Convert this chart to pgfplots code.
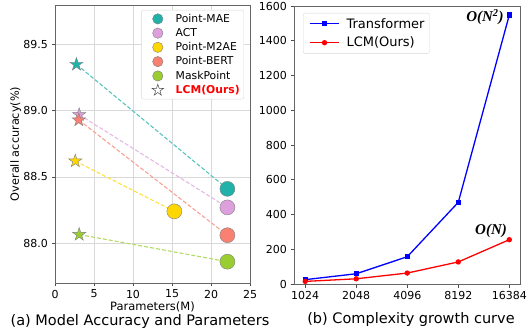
\documentclass[border=0pt]{standalone}
\usepackage{pgfplots}
\pgfplotsset{compat=1.18}
\usepackage{fontspec}
\setmainfont{DejaVu Sans}
\newfontfamily\sbi{Liberation Serif}
\usetikzlibrary{plotmarks}

\pgfdeclareplotmark{fstar}{%
  \pgfpathmoveto{\pgfpointpolar{90}{\pgfplotmarksize}}%
  \pgfpathlineto{\pgfpointpolar{126}{0.382\pgfplotmarksize}}%
  \pgfpathlineto{\pgfpointpolar{162}{\pgfplotmarksize}}%
  \pgfpathlineto{\pgfpointpolar{198}{0.382\pgfplotmarksize}}%
  \pgfpathlineto{\pgfpointpolar{234}{\pgfplotmarksize}}%
  \pgfpathlineto{\pgfpointpolar{270}{0.382\pgfplotmarksize}}%
  \pgfpathlineto{\pgfpointpolar{306}{\pgfplotmarksize}}%
  \pgfpathlineto{\pgfpointpolar{342}{0.382\pgfplotmarksize}}%
  \pgfpathlineto{\pgfpointpolar{18}{\pgfplotmarksize}}%
  \pgfpathlineto{\pgfpointpolar{54}{0.382\pgfplotmarksize}}%
  \pgfpathclose
  \pgfusepathqfillstroke
}

\definecolor{cmae}{HTML}{20B2AA}
\definecolor{cact}{HTML}{DDA0DD}
\definecolor{cmtwo}{HTML}{FFD700}
\definecolor{cbert}{HTML}{FA8072}
\definecolor{cmask}{HTML}{9ACD32}

\begin{document}
\begin{tikzpicture}
\path[use as bounding box] (0pt,0pt) rectangle (530pt,330pt);

% ---------------- left plot ----------------
\begin{axis}[
  at={(55pt,47pt)}, anchor=south west,
  scale only axis, width=195pt, height=278pt,
  xmin=0, xmax=25, ymin=87.7, ymax=89.8,
  xtick={0,5,10,15,20,25},
  ytick={88.0,88.5,89.0,89.5},
  yticklabel style={/pgf/number format/.cd,fixed,precision=1,zerofill},
  /pgf/number format/assume math mode=true,
  ticklabel style={font=\fontsize{11}{13}\selectfont},
  tick pos=left, tick align=outside, major tick length=3.5pt,
  every tick/.style={black!70, line width=0.6pt},
  axis line style={black!60, line width=0.6pt},
  grid=major, major grid style={gray!30, line width=0.8pt},
  xlabel={Parameters(M)},
  xlabel style={font=\fontsize{11.5}{13}\selectfont, yshift=3pt},
  ylabel={Overall accuracy(\%)},
  ylabel style={font=\fontsize{11.3}{13}\selectfont, yshift=-4.5pt},
  legend cell align=left,
  legend image code/.code={\path (0cm,0cm) (1.05cm,0cm); \draw[#1] plot coordinates {(0.5cm,0cm)};},
  legend style={at={(0.969,0.982)}, anchor=north east,
    font=\fontsize{10.8}{12}\selectfont, draw=gray!30, rounded corners=2pt,
    row sep=0.6pt, inner sep=2pt},
]
% dashed lines
\addplot[forget plot, cmae!75, dash pattern=on 4pt off 2pt, line width=1.1pt] coordinates {(2.75,89.35) (22.1,88.41)};
\addplot[forget plot, cact!75, dash pattern=on 4pt off 2pt, line width=1.1pt] coordinates {(3.1,88.97) (22.1,88.27)};
\addplot[forget plot, cmtwo!75, dash pattern=on 4pt off 2pt, line width=1.1pt] coordinates {(2.6,88.62) (15.3,88.24)};
\addplot[forget plot, cbert!75, dash pattern=on 4pt off 2pt, line width=1.1pt] coordinates {(3.05,88.93) (22.1,88.06)};
\addplot[forget plot, cmask!75, dash pattern=on 4pt off 2pt, line width=1.1pt] coordinates {(3.1,88.065) (22.1,87.86)};
% stars
\addplot[forget plot, only marks, mark=fstar, mark size=7pt, draw=gray, fill=cmae, line width=0.4pt] coordinates {(2.75,89.35)};
\addplot[forget plot, only marks, mark=fstar, mark size=7pt, draw=gray, fill=cact, line width=0.4pt] coordinates {(3.1,88.97)};
\addplot[forget plot, only marks, mark=fstar, mark size=7pt, draw=gray, fill=cbert, line width=0.4pt] coordinates {(3.05,88.93)};
\addplot[forget plot, only marks, mark=fstar, mark size=7pt, draw=gray, fill=cmtwo, line width=0.4pt] coordinates {(2.6,88.62)};
\addplot[forget plot, only marks, mark=fstar, mark size=7pt, draw=gray, fill=cmask, line width=0.4pt] coordinates {(3.1,88.065)};
% circles
\addplot[only marks, mark=*, mark size=7.5pt, draw=gray, fill=cmae, line width=0.4pt, legend image post style={mark size=5.2pt}] coordinates {(22.1,88.41)};
\addlegendentry{Point-MAE}
\addplot[only marks, mark=*, mark size=7.5pt, draw=gray, fill=cact, line width=0.4pt, legend image post style={mark size=5.2pt}] coordinates {(22.1,88.27)};
\addlegendentry{ACT}
\addplot[only marks, mark=*, mark size=7.5pt, draw=gray, fill=cmtwo, line width=0.4pt, legend image post style={mark size=5.2pt}] coordinates {(15.3,88.24)};
\addlegendentry{Point-M2AE}
\addplot[only marks, mark=*, mark size=7.5pt, draw=gray, fill=cbert, line width=0.4pt, legend image post style={mark size=5.2pt}] coordinates {(22.1,88.06)};
\addlegendentry{Point-BERT}
\addplot[only marks, mark=*, mark size=7.5pt, draw=gray, fill=cmask, line width=0.4pt, legend image post style={mark size=5.2pt}] coordinates {(22.1,87.86)};
\addlegendentry{MaskPoint}
\addplot[only marks, mark=fstar, mark size=6pt, draw=black!70, fill=white, line width=0.5pt] coordinates {(-10,0)};
\addlegendentry{\textcolor{red}{\textbf{LCM(Ours)}}}
\end{axis}

% ---------------- right plot ----------------
\begin{axis}[
  at={(294pt,46pt)}, anchor=south west,
  scale only axis, width=226pt, height=278pt,
  xmin=-0.22, xmax=4.21, ymin=0, ymax=1600,
  xtick={0,1,2,3,4}, xticklabels={1024,2048,4096,8192,16384},
  ytick={0,200,400,600,800,1000,1200,1400,1600},
  /pgf/number format/assume math mode=true,
  /pgf/number format/1000 sep={},
  ticklabel style={font=\fontsize{11}{13}\selectfont},
  tick pos=left, tick align=outside, major tick length=3.5pt,
  every tick/.style={black!70, line width=0.6pt},
  axis line style={black!60, line width=0.6pt},
  scaled y ticks=false,
  legend cell align=left,
  legend image code/.code={\path (0cm,0cm) (1.3cm,0cm); \draw[mark repeat=2,mark phase=2,#1] plot coordinates {(0.1cm,0cm) (0.62cm,0cm) (1.14cm,0cm)};},
  legend style={at={(0.04,0.975)}, anchor=north west,
    font=\fontsize{13}{15}\selectfont, draw=gray!30, rounded corners=2pt,
    row sep=3.5pt, inner sep=3pt},
]
\addplot[color=blue, line width=1.3pt, mark=square*, mark size=2pt] coordinates {(0,25) (1,59) (2,157) (3,470) (4,1548)};
\addlegendentry{Transformer}
\addplot[color=red, line width=1.3pt, mark=*, mark size=2pt] coordinates {(0,15) (1,30) (2,63) (3,127) (4,255)};
\addlegendentry{LCM(Ours)}
\end{axis}

\node[font=\sbi\bfseries\itshape\fontsize{15}{17}\selectfont] at (485pt,313pt) {O(N\textsuperscript{2})};
\node[font=\sbi\bfseries\itshape\fontsize{15}{17}\selectfont] at (491pt,99pt) {O(N)};
\node[font=\fontsize{14.5}{16}\selectfont] at (140pt,8.5pt) {(a) Model Accuracy and Parameters};
\node[font=\fontsize{14.5}{16}\selectfont] at (411pt,11pt) {(b) Complexity growth curve};
\end{tikzpicture}
\end{document}
